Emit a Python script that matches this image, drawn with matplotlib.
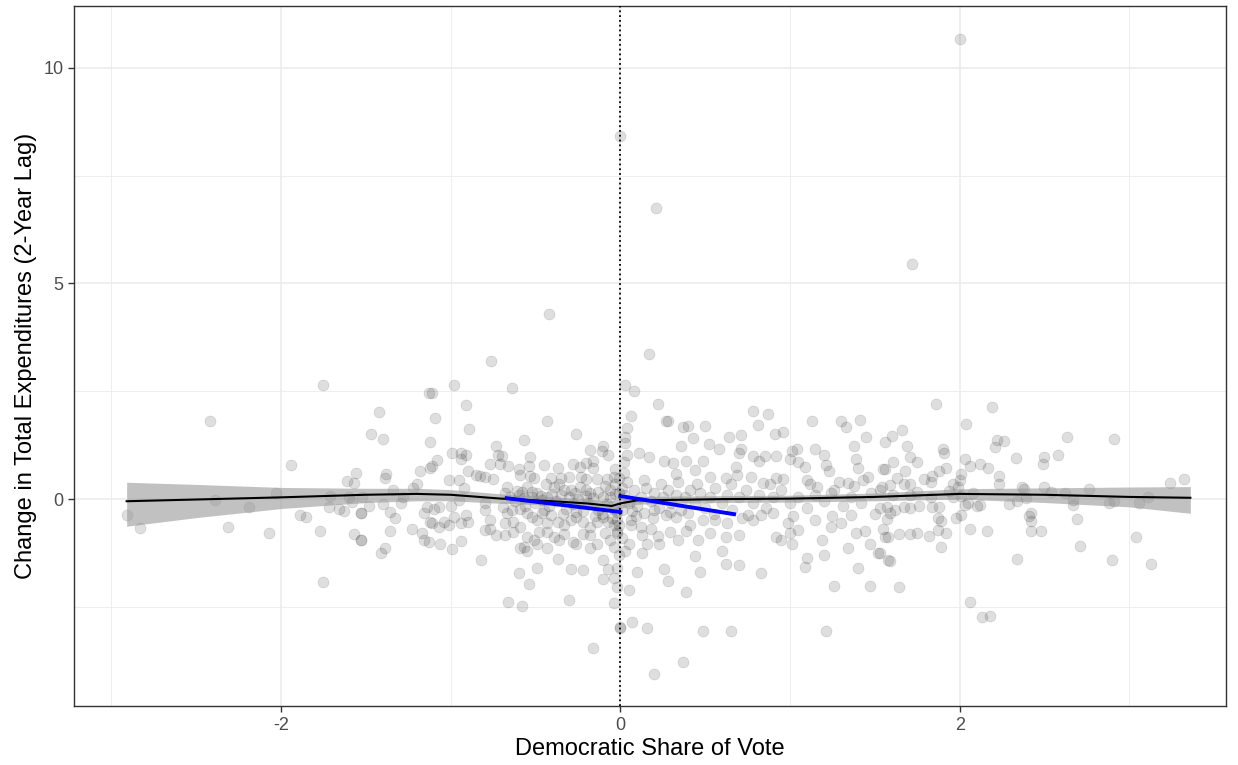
import matplotlib
matplotlib.use("Agg")
import matplotlib.pyplot as plt
import numpy as np

plt.rcParams['font.family'] = ['Liberation Sans', 'DejaVu Sans']
plt.rcParams['axes.unicode_minus'] = False

# outliers
out_x = [2.00, 0.00, 0.21, 1.72, -0.42, -0.76, 0.17, -1.75, -2.42, -0.98, -0.64]
out_y = [10.67, 8.43, 6.74, 5.44, 4.28, 3.19, 3.37, 2.64, 1.81, 2.65, 2.58]

# left side (x < -0.7)
left_x = [-1.94, -2.91, -2.83, -2.39, -2.19, -2.03, -2.31, -2.07, -1.89, -1.85,
          -1.77, -1.75, -1.72, -1.71, -1.66, -1.63, -1.61, -1.57, -1.56, -1.60,
          -1.58, -1.57, -1.53, -1.53, -1.42, -1.47, -1.40, -1.13, -1.11, -1.09,
          -1.12, -0.91, -0.89, -1.08, -1.11, -1.12, -1.18, -0.99, -0.94, -0.94,
          -0.91, -0.90, -0.85, -0.83, -0.80, -0.75, -1.01, -0.95, -0.92, -1.38,
          -1.39, -1.34, -1.22, -1.20, -1.52, -1.48, -1.40, -1.36, -1.33, -1.28,
          -1.29, -1.53, -1.16, -1.14, -1.10, -1.07, -1.12, -1.11, -1.07, -1.04,
          -1.01, -0.98, -0.94, -0.90, -0.91, -1.00, -0.95, -0.80, -0.80, -0.77,
          -0.77, -0.80, -0.73, -0.68, -1.53, -1.36, -1.23, -1.17, -1.16, -1.13,
          -1.06, -0.99, -0.94, -0.82, -1.39, -1.41, -0.73, -0.72, -0.70, -0.77,
          -0.71]
left_y = [0.80, -0.38, -0.66, -0.02, -0.19, 0.15, -0.64, -0.79, -0.38, -0.42,
          -0.75, -1.92, -0.19, 0.08, -0.22, -0.27, 0.42, 0.38, 0.61, 0.05,
          -0.07, -0.82, -0.32, -0.95, 2.02, 1.50, 1.40, 2.47, 2.47, 1.89,
          1.32, 2.17, 1.63, 0.90, 0.76, 0.71, 0.66, 1.07, 1.07, 0.93,
          1.02, 0.66, 0.56, 0.53, 0.52, 0.46, 0.44, 0.44, 0.26, 0.59,
          0.48, 0.22, 0.25, 0.35, 0.04, -0.15, -0.12, -0.29, -0.43, 0.05,
          -0.10, -0.32, -0.32, -0.18, -0.22, -0.18, -0.52, -0.55, -0.64, -0.52,
          -0.61, -0.41, -0.55, -0.54, -0.37, -0.15, -0.02, -0.08, -0.25, -0.49,
          -0.70, -0.72, -0.84, -0.84, -0.94, -0.73, -0.69, -0.78, -0.95, -1.00,
          -1.05, -1.15, -0.98, -1.41, -1.13, -1.26, 1.23, 1.03, 1.01, 0.81,
          0.81]

# center left (-0.7 < x < 0)
cl_x = [-0.66, -0.58, -0.30, -0.04, 0.00, -0.16, -0.57, -0.53, -0.43, -0.26,
        -0.18, -0.11, -0.10, -0.07, -0.66, -0.60, -0.54, -0.45, -0.37, -0.28,
        -0.24, -0.20, -0.16, -0.16, -0.59, -0.53, -0.51, -0.44, -0.41, -0.35,
        -0.30, -0.23, -0.20, -0.14, -0.08, -0.04, -0.67, -0.68, -0.65, -0.61,
        -0.58, -0.55, -0.52, -0.49, -0.46, -0.43, -0.39, -0.36, -0.33, -0.29,
        -0.27, -0.24, -0.20, -0.18, -0.13, -0.10, -0.06, -0.03, -0.69, -0.67,
        -0.63, -0.59, -0.55, -0.52, -0.49, -0.46, -0.43, -0.41, -0.37, -0.33,
        -0.29, -0.26, -0.22, -0.18, -0.14, -0.10, -0.07, -0.04, -0.02, -0.68,
        -0.63, -0.59, -0.55, -0.51, -0.48, -0.43, -0.39, -0.36, -0.33, -0.28,
        -0.26, -0.22, -0.18, -0.14, -0.09, -0.06, -0.04, -0.02, -0.57, -0.55,
        -0.49, -0.43, -0.37, -0.29, -0.22, -0.18, -0.10, -0.07, -0.10, -0.04,
        -0.02, -0.59, -0.60, -0.54, -0.49, -0.62, -0.57, -0.50, -0.47, -0.42,
        -0.38, -0.35, -0.32, -0.28, -0.25, -0.22, -0.19, -0.16, -0.13, -0.11,
        -0.08, -0.06, -0.04, -0.02, -0.01, -0.03, -0.05, -0.09, -0.15, -0.20,
        -0.26, -0.30, -0.34, -0.40, -0.45, -0.52, -0.56, -0.60, -0.64, -0.01,
        -0.02, -0.01, -0.01, -0.02, -0.03]
cl_y = [-2.38, -2.49, -2.35, -2.42, -2.97, -3.46, 1.37, 0.98, 1.81, 1.51,
        1.13, 1.12, 1.24, 1.03, 0.77, 0.70, 0.77, 0.80, 0.71, 0.81,
        0.75, 0.83, 0.88, 0.71, 0.56, 0.53, 0.49, 0.34, 0.48, 0.50,
        0.52, 0.52, 0.46, 0.46, 0.46, 0.52, 0.29, 0.13, 0.05, 0.19,
        0.17, 0.29, 0.17, 0.13, -0.02, 0.05, 0.29, 0.34, 0.22, 0.21,
        0.13, 0.29, 0.22, 0.15, 0.17, 0.05, 0.22, 0.12, -0.18, -0.33,
        -0.52, -0.22, -0.33, -0.41, -0.49, -0.33, -0.56, -0.37, -0.52, -0.60,
        -0.49, -0.41, -0.52, -0.64, -0.52, -0.41, -0.52, -0.60, -0.49, -0.56,
        -0.76, -0.64, -0.87, -0.95, -0.76, -0.76, -0.87, -0.95, -0.82, -0.99,
        -1.04, -0.81, -0.83, -1.03, -0.79, -0.95, -1.10, -0.79, -1.10, -1.20,
        -1.03, -1.14, -1.40, -1.63, -1.64, -1.14, -1.41, -1.61, -1.86, -1.82,
        -2.03, -1.14, -1.72, -1.98, -1.60, -0.05, 0.02, -0.10, 0.08, -0.15,
        -0.05, 0.10, -0.22, -0.12, 0.00, -0.28, -0.08, 0.02, -0.25, -0.35,
        -0.12, 0.05, -0.22, -0.30, 0.15, 0.35, -0.45, 0.30, -0.40, 0.08,
        -0.30, 0.05, -0.35, 0.12, -0.25, 0.05, -0.15, 0.10, -0.25, -0.60,
        -0.75, 0.50, -1.30, -1.60, 0.70]

# center right (0 < x < 1.6)
cr_x = [0.03, 0.08, 0.22, 0.06, 0.04, 0.03, 0.03, 0.04, 0.27, 0.28,
        0.37, 0.40, 0.50, 0.43, 0.36, 0.52, 0.58, 0.64, 0.71, 0.78,
        0.87, 0.81, 0.91, 0.96, 0.71, 0.70, 0.78, 0.85, 0.92, 0.82,
        1.01, 1.04, 1.00, 1.13, 1.15, 1.20, 1.21, 1.23, 1.30, 1.33,
        1.41, 1.45, 1.38, 1.39, 1.40, 1.56, 1.55, 0.11, 0.17, 0.26,
        0.31, 0.39, 0.33, 0.44, 0.49, 0.53, 0.62, 0.68, 0.69, 0.77,
        0.84, 0.92, 0.96, 1.05, 1.09, 1.10, 1.16, 1.24, 1.29, 1.34,
        1.43, 1.46, 1.54, 0.06, 0.05, 0.13, 0.10, 0.05, 0.26, 0.28,
        0.39, 0.44, 0.47, 0.60, 0.62, 0.70, 0.83, 0.62, 0.70, 0.53,
        0.46, 0.34, 0.23, 0.16, 0.22, 0.13, 0.18, 0.29, 0.39, 0.41,
        0.49, 0.56, 0.63, 0.07, 0.14, 0.20, 0.27, 0.33, 0.40, 0.06,
        0.12, 0.92, 0.95, 1.01, 1.10, 1.09, 1.19, 1.20, 1.26, 1.34,
        1.40, 1.39, 1.44, 1.47, 1.47, 1.52, 1.58, 1.56, 1.05, 1.00,
        1.15, 1.24, 1.30, 1.36, 0.90, 0.83, 0.78, 0.75, 0.99, 0.20,
        0.37, 0.07, 0.16, 0.49, 0.65, 1.21, 0.00,
        0.02, 0.05, 0.08, 0.10, 0.12, 0.15, 0.18, 0.20, 0.23, 0.25,
        0.28, 0.30, 0.33, 0.36, 0.38, 0.41, 0.44, 0.47, 0.50, 0.53,
        0.56, 0.60, 0.63, 0.66, 0.70, 0.74, 0.78, 0.82, 0.86, 0.90,
        0.95, 1.00, 1.05, 1.10, 1.15, 1.20, 1.26, 1.31, 1.36, 1.42,
        1.48, 1.53, 0.04, 0.09, 0.14, 0.19, 0.24, 0.29, 0.34, 0.45,
        0.55, 0.65, 0.72, 0.88, 1.02, 1.12, 1.25, 1.38, 1.50, 0.01,
        0.01, 0.02, 0.01, 0.02, 0.03]
cr_y = [2.65, 2.50, 2.21, 1.92, 1.65, 1.44, 1.29, 1.02, 1.81, 1.81,
        1.66, 1.69, 1.69, 1.42, 1.24, 1.27, 1.15, 1.45, 1.49, 2.04,
        1.98, 1.72, 1.51, 1.56, 1.15, 1.06, 1.00, 1.00, 1.00, 0.89,
        1.12, 1.16, 0.94, 1.81, 1.16, 1.02, 0.79, 0.64, 1.80, 1.67,
        1.83, 1.43, 1.23, 0.93, 0.73, 1.33, 0.70, 1.07, 0.98, 0.89,
        0.83, 0.89, 0.59, 0.67, 0.88, 0.52, 0.48, 0.75, 0.56, 0.52,
        0.38, 0.48, 0.46, 0.86, 0.75, 0.44, 0.29, 0.13, 0.40, 0.38,
        0.44, 0.52, 0.29, -0.60, -1.03, -1.26, -1.68, -2.10, -1.62, -1.89,
        -2.16, -1.33, -1.70, -1.20, -1.50, -1.53, -1.71, -0.87, -0.83, -0.79,
        -0.95, -0.95, -1.04, -1.04, -0.85, -0.83, -0.69, -0.77, -0.73, -0.60,
        -0.49, -0.49, -0.55, -0.28, -0.33, -0.25, -0.37, -0.41, -0.33, -0.49,
        -0.64, -0.87, -0.95, -1.05, -1.37, -1.57, -0.95, -1.30, -2.01, -1.14,
        -1.60, -0.78, -0.73, -1.04, -2.01, -1.26, -1.41, -0.87, -0.72, -0.79,
        -0.49, -0.64, -0.56, -0.37, -0.33, -0.37, -0.49, -0.37, -0.55, -4.06,
        -3.77, -2.86, -2.98, -3.06, -3.05, -3.06, -2.98,
        0.10, -0.10, 0.20, -0.15, 0.05, 0.25, -0.05, 0.15, -0.20, 0.05,
        0.20, -0.10, 0.10, -0.25, 0.05, 0.20, -0.10, 0.15, -0.20, 0.05,
        0.25, -0.10, 0.10, -0.25, 0.05, 0.20, -0.10, 0.10, -0.20, 0.05,
        0.20, -0.10, 0.05, -0.20, 0.10, -0.05, 0.20, -0.15, 0.05, -0.10,
        0.15, -0.20, 0.40, -0.40, 0.45, -0.45, 0.35, -0.30, 0.40, 0.35,
        -0.35, 0.35, -0.45, 0.35, -0.40, 0.35, -0.40, 0.30, -0.35, 0.25,
        -0.25, 0.60, -0.90, 0.85, -1.20]

# right side (x > 1.5)
right_x = [1.86, 2.19, 2.04, 2.63, 2.91, 3.24, 3.32, 1.60, 1.66, 1.69,
           1.71, 1.75, 1.61, 1.56, 1.68, 1.90, 1.91, 1.92, 1.88, 1.84,
           1.79, 1.83, 1.63, 1.67, 1.71, 1.59, 2.03, 2.06, 2.12, 2.17,
           2.01, 2.00, 1.96, 2.22, 2.26, 2.21, 2.33, 2.50, 2.49, 2.58,
           2.23, 2.23, 2.37, 2.38, 2.50, 2.54, 2.62, 2.76, 2.08, 1.99,
           1.94, 1.75, 1.71, 1.61, 1.53, 1.83, 2.01, 1.96, 2.39, 2.34,
           2.29, 2.67, 2.67, 2.88, 2.91, 3.06, 3.11, 1.57, 1.62, 1.67,
           1.71, 1.76, 1.84, 1.88, 2.03, 2.05, 2.10, 2.12, 1.59, 1.57,
           1.87, 1.89, 1.98, 2.01, 2.41, 2.42, 2.42, 2.69, 1.55, 1.58,
           1.64, 1.71, 1.75, 1.82, 1.87, 1.92, 1.89, 2.06, 2.16, 2.42,
           2.48, 2.71, 3.04, 1.59, 1.53, 1.64, 2.06, 2.13, 2.18, 2.34,
           2.90, 3.13]
right_y = [2.20, 2.14, 1.74, 1.44, 1.40, 0.38, 0.47, 1.47, 1.61, 1.23,
           0.98, 0.85, 0.85, 0.69, 0.66, 1.17, 1.06, 0.73, 0.66, 0.54,
           0.46, 0.40, 0.49, 0.35, 0.34, 0.32, 0.93, 0.77, 0.81, 0.71,
           0.59, 0.44, 0.35, 1.38, 1.34, 1.21, 0.96, 0.97, 0.82, 1.02,
           0.53, 0.35, 0.29, 0.23, 0.29, 0.16, 0.13, 0.24, 0.15, 0.29,
           0.19, 0.17, 0.09, 0.09, 0.21, 0.05, 0.07, 0.04, 0.02, -0.04,
           -0.11, -0.03, -0.14, -0.10, -0.05, -0.10, 0.05, -0.18, -0.25, -0.18,
           -0.20, -0.16, -0.18, -0.18, -0.14, -0.10, -0.15, -0.14, -0.33, -0.46,
           -0.45, -0.51, -0.45, -0.37, -0.39, -0.32, -0.51, -0.47, -0.69, -0.87,
           -0.81, -0.81, -0.79, -0.85, -0.72, -0.79, -1.11, -0.69, -0.74, -0.74,
           -0.73, -1.09, -0.87, -1.43, -1.26, -2.03, -2.39, -2.74, -2.71, -1.40,
           -1.41, -1.51]

# loess fit with 95% band
fit_x = [-2.91, -2.5, -2.0, -1.5, -1.2, -1.0, -0.7, -0.4, -0.2, -0.05,
         0.0, 0.1, 0.3, 0.6, 1.0, 1.5, 2.0, 2.5, 3.0, 3.36]
fit_y = [-0.05, -0.01, 0.04, 0.10, 0.12, 0.10, 0.01, -0.05, -0.10, -0.16,
         -0.10, -0.03, -0.02, 0.00, 0.01, 0.05, 0.12, 0.10, 0.05, 0.03]
fit_lo = [-0.63, -0.43, -0.22, -0.08, -0.04, -0.04, -0.10, -0.14, -0.20, -0.28,
          -0.22, -0.12, -0.10, -0.08, -0.07, -0.04, 0.00, -0.08, -0.18, -0.33]
fit_hi = [0.39, 0.34, 0.27, 0.25, 0.25, 0.22, 0.12, 0.05, 0.00, -0.04,
          0.02, 0.06, 0.07, 0.08, 0.09, 0.14, 0.24, 0.26, 0.28, 0.29]

# local linear fits on each side of the cutoff
lin_left_x = [-0.67, 0.0]
lin_left_y = [0.02, -0.30]
lin_right_x = [0.0, 0.67]
lin_right_y = [0.07, -0.35]

all_x = out_x + left_x + cl_x + cr_x + right_x
all_y = out_y + left_y + cl_y + cr_y + right_y

fig = plt.figure(figsize=(12.38, 7.65), dpi=100)
ax = fig.add_axes([0.0598, 0.077, 0.9305, 0.915])

ax.scatter(all_x, all_y, s=62, color='black', alpha=0.13, linewidths=0.5,
           edgecolors=(0, 0, 0, 0.18), zorder=2)

ax.fill_between(fit_x, fit_lo, fit_hi, color='#999999', alpha=0.6, lw=0, zorder=3)
ax.plot(fit_x, fit_y, color='black', lw=1.5, zorder=4)
ax.plot(lin_left_x, lin_left_y, color='blue', lw=2.8, zorder=5)
ax.plot(lin_right_x, lin_right_y, color='blue', lw=2.8, zorder=5)
ax.axvline(0, color='black', ls=':', lw=1.3, zorder=6)

ax.set_xlim(-3.22, 3.57)
ax.set_ylim(-4.8, 11.43)
ax.set_xticks([-2, 0, 2])
ax.set_yticks([0, 5, 10])
ax.set_xticks([-3, -1, 1, 3], minor=True)
ax.set_yticks([-2.5, 2.5, 7.5], minor=True)
ax.grid(which='major', color='#ebebeb', lw=1.1, zorder=0)
ax.grid(which='minor', color='#ebebeb', lw=0.6, zorder=0)
ax.set_axisbelow(True)
ax.tick_params(which='minor', length=0)
ax.tick_params(which='major', length=4.5, width=1, color='#333333',
               labelsize=13, labelcolor='#4d4d4d', pad=3)
for sp in ax.spines.values():
    sp.set_color('#333333')
    sp.set_linewidth(1.0)

ax.set_xlabel('Democratic Share of Vote', fontsize=17, labelpad=3)
ax.set_ylabel('Change in Total Expenditures (2-Year Lag)', fontsize=17, labelpad=5)

fig.savefig('out.png', dpi=100)
